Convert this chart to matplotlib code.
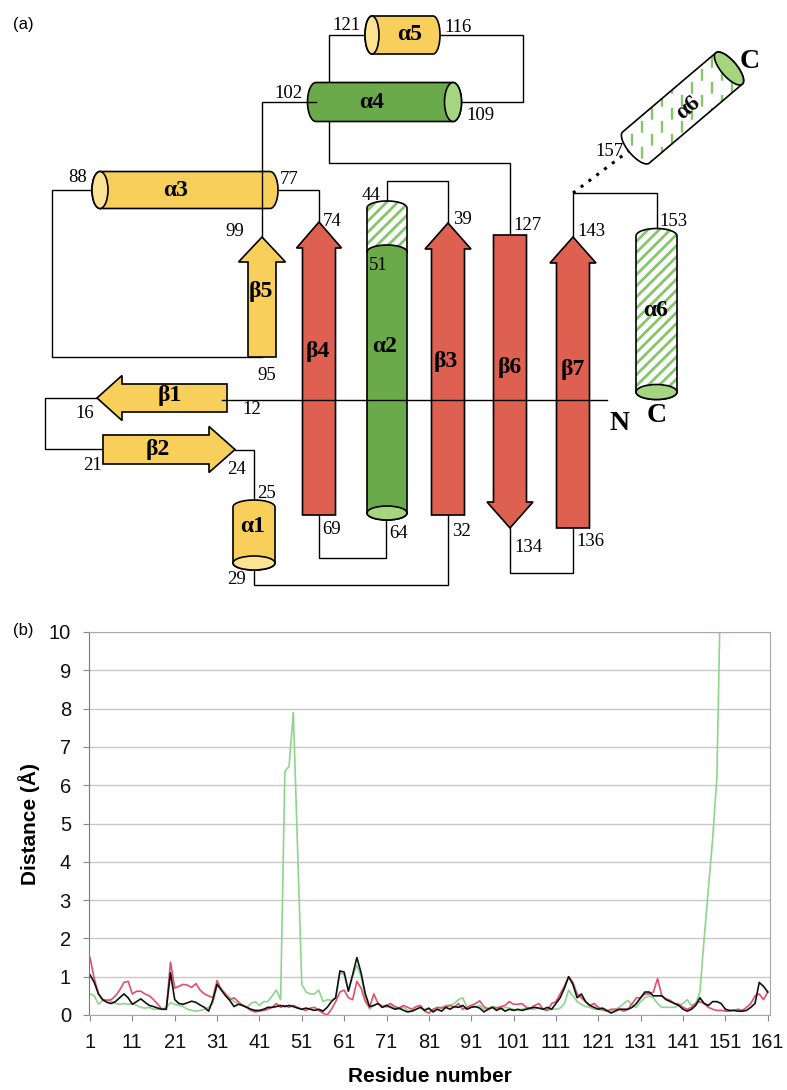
#!/usr/bin/env python

import numpy as np
import matplotlib
matplotlib.use('Agg')
import matplotlib.pyplot as plt
from matplotlib.patches import Polygon, Ellipse

"""(a) topology sketch of the fold, (b) per-residue distance between the structures"""

plt.rcParams['font.family'] = 'Liberation Sans'
plt.rcParams['hatch.linewidth'] = 2.0

# ---------------- data for panel (b) ----------------
residues = np.arange(1, 162)

dist_black = [
    1.05, 0.85, 0.55, 0.40, 0.33, 0.30, 0.35, 0.45, 0.55, 0.45,  # 1-10
    0.28, 0.35, 0.42, 0.33, 0.25, 0.22, 0.18, 0.15, 0.15, 1.10,  # 11-20
    0.40, 0.30, 0.28, 0.32, 0.36, 0.33, 0.26, 0.20, 0.10, 0.40,  # 21-30
    0.80, 0.65, 0.50, 0.38, 0.22, 0.28, 0.25, 0.20, 0.15, 0.12,  # 31-40
    0.12, 0.15, 0.20, 0.20, 0.22, 0.25, 0.22, 0.25, 0.22, 0.18,  # 41-50
    0.15, 0.18, 0.15, 0.12, 0.15, 0.10, 0.20, 0.35, 0.45, 1.15,  # 51-60
    1.12, 0.62, 1.05, 1.50, 1.10, 0.55, 0.22, 0.25, 0.30, 0.20,  # 61-70
    0.25, 0.20, 0.15, 0.18, 0.12, 0.08, 0.10, 0.15, 0.20, 0.12,  # 71-80
    0.18, 0.08, 0.15, 0.10, 0.20, 0.15, 0.22, 0.20, 0.25, 0.15,  # 81-90
    0.20, 0.22, 0.18, 0.08, 0.15, 0.20, 0.12, 0.18, 0.10, 0.15,  # 91-100
    0.12, 0.15, 0.12, 0.15, 0.18, 0.20, 0.18, 0.15, 0.20, 0.15,  # 101-110
    0.30, 0.45, 0.70, 1.00, 0.80, 0.45, 0.55, 0.35, 0.25, 0.20,  # 111-120
    0.15, 0.18, 0.12, 0.05, 0.10, 0.15, 0.15, 0.15, 0.20, 0.30,  # 121-130
    0.45, 0.60, 0.60, 0.50, 0.50, 0.50, 0.40, 0.35, 0.30, 0.25,  # 131-140
    0.15, 0.10, 0.15, 0.25, 0.45, 0.30, 0.25, 0.35, 0.35, 0.30,  # 141-150
    0.15, 0.12, 0.12, 0.10, 0.10, 0.12, 0.20, 0.30, 0.85, 0.75, 0.60]  # 151-161

dist_red = [
    1.50, 0.95, 0.55, 0.40, 0.38, 0.40, 0.50, 0.65, 0.85, 0.88,  # 1-10
    0.55, 0.62, 0.62, 0.55, 0.50, 0.40, 0.28, 0.15, 0.15, 1.38,  # 11-20
    0.70, 0.75, 0.80, 0.78, 0.72, 0.82, 0.65, 0.55, 0.50, 0.45,  # 21-30
    0.90, 0.65, 0.55, 0.40, 0.45, 0.35, 0.25, 0.20, 0.12, 0.08,  # 31-40
    0.10, 0.12, 0.15, 0.20, 0.30, 0.20, 0.25, 0.20, 0.25, 0.20,  # 41-50
    0.15, 0.12, 0.18, 0.20, 0.12, 0.05, 0.00, 0.15, 0.35, 0.60,  # 51-60
    0.65, 0.45, 0.40, 0.88, 0.70, 0.35, 0.20, 0.55, 0.30, 0.20,  # 61-70
    0.25, 0.30, 0.22, 0.18, 0.25, 0.20, 0.15, 0.22, 0.25, 0.10,  # 71-80
    0.05, 0.15, 0.20, 0.18, 0.22, 0.25, 0.20, 0.30, 0.15, 0.20,  # 81-90
    0.25, 0.30, 0.37, 0.22, 0.15, 0.20, 0.18, 0.22, 0.25, 0.35,  # 91-100
    0.28, 0.28, 0.30, 0.20, 0.18, 0.25, 0.30, 0.15, 0.12, 0.30,  # 101-110
    0.35, 0.55, 0.75, 1.00, 0.85, 0.55, 0.45, 0.35, 0.25, 0.30,  # 111-120
    0.20, 0.15, 0.10, 0.15, 0.15, 0.15, 0.10, 0.15, 0.30, 0.45,  # 121-130
    0.45, 0.55, 0.55, 0.60, 0.95, 0.50, 0.42, 0.38, 0.30, 0.28,  # 131-140
    0.20, 0.15, 0.20, 0.30, 0.35, 0.30, 0.20, 0.15, 0.12, 0.12,  # 141-150
    0.10, 0.10, 0.12, 0.15, 0.12, 0.20, 0.30, 0.50, 0.55, 0.40, 0.60]  # 151-161

dist_green = [
    0.55, 0.50, 0.28, 0.38, 0.40, 0.35, 0.30, 0.28, 0.30, 0.28,  # 1-10
    0.30, 0.25, 0.20, 0.18, 0.20, 0.15, 0.15, 0.15, 0.20, 0.32,  # 11-20
    0.28, 0.25, 0.22, 0.15, 0.12, 0.10, 0.12, 0.15, 0.20, 0.30,  # 21-30
    0.78, 0.70, 0.55, 0.45, 0.35, 0.30, 0.25, 0.20, 0.30, 0.35,  # 31-40
    0.25, 0.35, 0.35, 0.50, 0.65, 0.40, 6.35, 6.50, 7.90, 4.35,  # 41-50
    0.80, 0.60, 0.55, 0.55, 0.65, 0.35, 0.40, 0.38, 0.45, 1.10,  # 51-60
    1.05, 0.65, 1.00, 1.30, 1.00, 0.45, 0.15, 0.25, 0.30, 0.25,  # 61-70
    0.20, 0.25, 0.18, 0.15, 0.20, 0.12, 0.10, 0.15, 0.20, 0.15,  # 71-80
    0.15, 0.12, 0.18, 0.20, 0.25, 0.25, 0.30, 0.40, 0.45, 0.20,  # 81-90
    0.25, 0.20, 0.25, 0.15, 0.18, 0.22, 0.20, 0.15, 0.20, 0.18,  # 91-100
    0.15, 0.12, 0.15, 0.18, 0.15, 0.15, 0.18, 0.15, 0.12, 0.15,  # 101-110
    0.15, 0.18, 0.30, 0.65, 0.50, 0.35, 0.28, 0.22, 0.20, 0.15,  # 111-120
    0.15, 0.12, 0.10, 0.10, 0.15, 0.20, 0.30, 0.38, 0.25, 0.20,  # 121-130
    0.35, 0.45, 0.50, 0.45, 0.30, 0.20, 0.20, 0.20, 0.20, 0.25,  # 131-140
    0.30, 0.40, 0.25, 0.30, 0.60, 2.00, 3.30, 4.60, 6.20, 12.0,  # 141-150
    12.5, 13.0, 13.5, 14.0, 14.5, 15.0, 15.5, 16.0, 16.5, 17.0, 17.5]  # 151-161

x_ticks = list(range(1, 162, 10))
y_ticks = list(range(0, 11))

# ---------------- colours ----------------
YELLOW = '#F9CF5B'
YELLOW_FACE = '#FCE394'
RED = '#DE6050'
GREEN = '#6BAA4B'
GREEN_FACE = '#A5D57F'
HATCH = '#86C66A'

W, H = 787, 1090
TOP_H = 600

fig = plt.figure(figsize=(W / 100, H / 100), dpi=100)

# panel (a) is drawn in pixel coordinates, y pointing down
ax = fig.add_axes([0, 1 - TOP_H / H, 1, TOP_H / H])
ax.set_xlim(0, W)
ax.set_ylim(TOP_H, 0)
ax.axis('off')


def arc_pts(cx, cy, rx, ry, t0, t1, n=40):
    t = np.radians(np.linspace(t0, t1, n))
    return np.column_stack([cx + rx * np.cos(t), cy + ry * np.sin(t)])


def add_poly(pts, fc, hatch=False, z=2):
    if hatch:
        ax.add_patch(Polygon(pts, closed=True, fc='white', ec='none', zorder=z))
        ax.add_patch(Polygon(pts, closed=True, fc='none', ec=HATCH, lw=0, hatch='///', zorder=z))
        ax.add_patch(Polygon(pts, closed=True, fc='none', ec='black', lw=1.2, zorder=z))
    else:
        ax.add_patch(Polygon(pts, closed=True, fc=fc, ec='black', lw=1.2, zorder=z))


def vcyl(xc, w, yt, yb, eh, fc, face=None, hatch=False, z=2):
    rx, ry = w / 2, eh / 2
    pts = np.vstack([[[xc - rx, yt]], arc_pts(xc, yb, rx, ry, 180, 0), arc_pts(xc, yt, rx, ry, 0, -180)])
    add_poly(pts, fc, hatch, z)
    if face:
        ax.add_patch(Ellipse((xc, yb), w, eh, fc=face, ec='black', lw=1.2, zorder=z))


def hcyl(xa, xb, yc, h, ew, fc, face_x, face, z=2):
    rx, ry = ew / 2, h / 2
    pts = np.vstack([arc_pts(xb, yc, rx, ry, -90, 90), arc_pts(xa, yc, rx, ry, 90, 270)])
    add_poly(pts, fc, False, z)
    ax.add_patch(Ellipse((face_x, yc), ew, h, fc=face, ec='black', lw=1.2, zorder=z))


def varrow(xc, bw, hw, y_base, y_head, y_tip, fc, z=2):
    pts = [(xc - bw / 2, y_base), (xc - bw / 2, y_head), (xc - hw / 2, y_head), (xc, y_tip),
           (xc + hw / 2, y_head), (xc + bw / 2, y_head), (xc + bw / 2, y_base)]
    add_poly(pts, fc, False, z)


def harrow(yc, bh, hh, x_base, x_head, x_tip, fc, z=2):
    pts = [(x_base, yc - bh / 2), (x_head, yc - bh / 2), (x_head, yc - hh / 2), (x_tip, yc),
           (x_head, yc + hh / 2), (x_head, yc + bh / 2), (x_base, yc + bh / 2)]
    add_poly(pts, fc, False, z)


def conn(xs, ys, z=1, **kw):
    ax.plot(xs, ys, color='black', lw=1.0, zorder=z, solid_joinstyle='miter', **kw)


def num(s, x, y):
    ax.text(x, y, s, fontsize=13.5, family='Liberation Serif', ha='center', va='center', zorder=8)


def lab(s, x, y, rot=0, size=17):
    ax.text(x, y, s, fontsize=size, family='Liberation Serif', weight='bold',
            ha='center', va='center', rotation=rot, zorder=8)


# connecting loops (behind the elements)
conn([371, 329, 329, 510, 510], [35, 35, 163, 163, 235])
conn([433, 523, 523, 453], [35, 35, 102, 102])
conn([100, 52, 52, 262], [190, 190, 357, 357])
conn([270, 319, 319], [190, 190, 222])
conn([319, 319, 386, 386], [515, 558, 558, 515])
conn([387, 387, 448, 448], [208, 181, 181, 223])
conn([448, 448, 254, 254], [515, 585, 585, 563])
conn([510, 510, 573, 573], [528, 573, 573, 528])
conn([573, 573, 657, 657], [237, 193, 193, 236])
conn([97, 45, 45, 103], [398, 398, 449, 449])
conn([235, 254, 254], [450, 450, 505])
ax.plot([573, 630], [193, 150], color='black', lw=2.2, ls=(0, (1, 2.2)), zorder=1)

# helices
hcyl(100, 270, 190, 37, 16, YELLOW, 100, YELLOW_FACE)            # a3
hcyl(316, 453, 102, 39, 17, GREEN, 453, GREEN_FACE)              # a4
hcyl(372, 433, 35, 38, 14, YELLOW, 372, YELLOW_FACE)             # a5
vcyl(254, 42, 507, 563, 14, YELLOW, YELLOW_FACE)                 # a1
vcyl(387, 40, 208, 252, 14, 'white', hatch=True)                 # a2 top, hatched
vcyl(387, 40, 252, 513, 14, GREEN, GREEN_FACE)                   # a2
vcyl(656.5, 41, 236, 392, 15, 'white', GREEN_FACE, hatch=True)  # a6 (bottom)

# line from 102 crosses over a3
conn([316, 262, 262], [102, 102, 237], z=3)

# strands
varrow(262, 28, 47, 357, 262, 237, YELLOW)   # b5
varrow(319, 33, 45, 515, 248, 222, RED)      # b4
varrow(448, 33, 46, 515, 249, 223, RED)      # b3
varrow(510, 33, 46, 235, 502, 528, RED)      # b6
varrow(573, 33, 46, 528, 263, 237, RED)      # b7
harrow(398, 28, 45, 227, 122, 97, YELLOW)    # b1
harrow(449.5, 29, 46, 103, 209, 235, YELLOW)  # b2

# N-terminal line on top
conn([222, 607], [400, 400], z=5)

# tilted a6 (disordered form), dashed fill
p0 = np.array([636.0, 147.5])
p1 = np.array([729.0, 68.5])
a = (p1 - p0) / np.linalg.norm(p1 - p0)
nv = np.array([-a[1], a[0]])
ru, rv = 8.0, 20.5
t1 = np.radians(np.linspace(-90, 90, 40))
t2 = np.radians(np.linspace(90, 270, 40))
body = np.vstack([p1 + np.outer(ru * np.cos(t1), a) + np.outer(rv * np.sin(t1), nv),
                  p0 + np.outer(ru * np.cos(t2), a) + np.outer(rv * np.sin(t2), nv)])
bpatch = Polygon(body, closed=True, fc='white', ec='none', zorder=2)
ax.add_patch(bpatch)
for i, xx in enumerate(np.arange(612, 770, 10)):
    ln, = ax.plot([xx, xx], [30, 190], color=HATCH, lw=1.7,
                  ls=(5.5 * (i % 2), (5, 6)), zorder=2.1)
    ln.set_clip_path(bpatch)
ax.add_patch(Polygon(body, closed=True, fc='none', ec='black', lw=1.2, zorder=2.2))
tt = np.radians(np.linspace(0, 360, 80))
face = p1 + np.outer(ru * np.cos(tt), a) + np.outer(rv * np.sin(tt), nv)
ax.add_patch(Polygon(face, closed=True, fc=GREEN_FACE, ec='black', lw=1.2, zorder=2.3))

# residue numbers
for s, x, y in [('121', 346, 26), ('116', 458, 27), ('102', 288, 93), ('109', 480, 115),
                ('88', 78, 178), ('77', 289, 180), ('99', 235, 232), ('74', 332, 221),
                ('44', 371, 196), ('51', 378, 265), ('39', 462, 220), ('127', 527, 225),
                ('143', 591, 232), ('157', 609, 152), ('153', 673, 222), ('95', 267, 376),
                ('16', 85, 413), ('12', 252, 410), ('21', 92, 465), ('24', 236, 469),
                ('25', 266, 493), ('69', 332, 529), ('64', 399, 533), ('32', 461, 531),
                ('134', 528, 547), ('136', 590, 542), ('29', 236, 580)]:
    num(s, x, y)

# element names
for s, x, y in [('α5', 410, 35), ('α4', 372, 102), ('α3', 176, 190), ('β5', 261, 292),
                ('β4', 318, 352), ('α2', 385, 347), ('β3', 446, 362), ('β6', 510, 367),
                ('β7', 573, 369), ('α6', 656, 311), ('β1', 170, 396), ('β2', 158, 449),
                ('α1', 253, 527)]:
    lab(s, x, y)
lab('α6', 688, 108, rot=40)
lab('N', 620, 423, size=20)
lab('C', 657, 416, size=20)
lab('C', 750, 61, size=20)

fig.text(23 / W, 1 - 24 / H, '(a)', fontsize=12, ha='center', va='center')
fig.text(23 / W, 1 - 630 / H, '(b)', fontsize=12, ha='center', va='center')

# ---------------- panel (b) ----------------
ax2 = fig.add_axes([89 / W, 1 - 1015 / H, (770 - 89) / W, (1015 - 632) / H])
ax2.plot(residues, dist_green, color='#8ED48E', lw=1.2)
ax2.plot(residues, dist_red, color='#E0506A', lw=1.2)
ax2.plot(residues, dist_black, color='#111111', lw=1.2)
ax2.set_xlim(0.76, 161.54)
ax2.set_ylim(0, 10)
ax2.set_xticks(x_ticks)
ax2.set_yticks(y_ticks)
ax2.grid(axis='y', color='#c8c8c8', lw=1.0)
ax2.set_axisbelow(True)
ax2.tick_params(axis='both', direction='out', length=4, width=0.8, color='#888888',
                labelsize=14.5, labelcolor='#111111')
ax2.tick_params(axis='x', pad=9)
ax2.tick_params(axis='y', pad=9)
for side in ['top', 'right', 'bottom']:
    ax2.spines[side].set_color('#a8a8a8')
ax2.spines['left'].set_color('#7a7a7a')

fig.text(29 / W, 1 - 824 / H, 'Distance (Å)', rotation=90, fontsize=15, weight='bold',
         ha='center', va='center')
fig.text(430 / W, 1 - 1077 / H, 'Residue number', fontsize=15, weight='bold',
         ha='center', va='center')

plt.savefig('out.png', dpi=100)
